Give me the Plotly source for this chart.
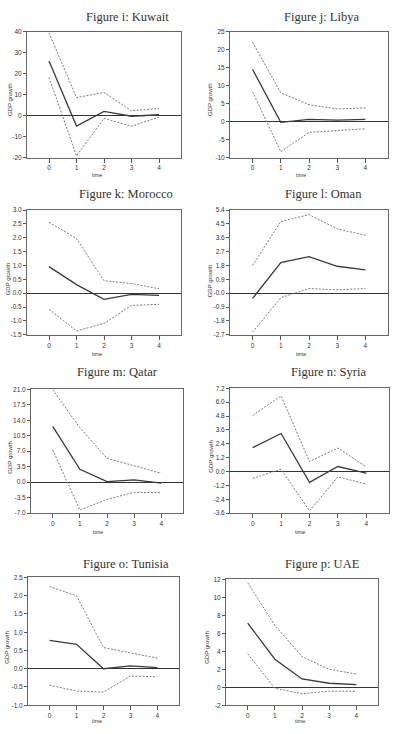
import plotly.graph_objects as go

time = [0, 1, 2, 3, 4]

kuwait_irf = [26.0, -5.0, 2.0, -0.3, 0.4]
kuwait_up = [39.5, 8.6, 11.0, 2.3, 3.4]
kuwait_lo = [18.2, -19.2, -1.3, -5.1, -0.7]

libya_irf = [14.5, -0.2, 0.6, 0.4, 0.6]
libya_up = [22.1, 8.0, 4.7, 3.5, 3.8]
libya_lo = [8.3, -8.4, -3.0, -2.5, -2.0]

morocco_irf = [0.96, 0.31, -0.22, -0.04, -0.08]
morocco_up = [2.56, 1.97, 0.45, 0.35, 0.16]
morocco_lo = [-0.58, -1.36, -1.09, -0.44, -0.40]

oman_irf = [-0.34, 1.99, 2.37, 1.75, 1.52]
oman_up = [1.8, 4.65, 5.1, 4.18, 3.76]
oman_lo = [-2.53, -0.29, 0.3, 0.22, 0.3]

qatar_irf = [12.6, 2.9, 0.1, 0.5, -0.2]
qatar_up = [20.9, 12.3, 5.4, 3.7, 2.0]
qatar_lo = [7.3, -6.3, -3.9, -2.3, -2.4]

syria_irf = [2.06, 3.29, -0.94, 0.43, -0.14]
syria_up = [4.86, 6.54, 0.86, 2.03, 0.4]
syria_lo = [-0.6, 0.2, -3.4, -0.46, -1.09]

tunisia_irf = [0.78, 0.67, 0.0, 0.08, 0.03]
tunisia_up = [2.25, 2.0, 0.58, 0.44, 0.29]
tunisia_lo = [-0.45, -0.61, -0.64, -0.2, -0.22]

uae_irf = [7.14, 3.12, 0.93, 0.45, 0.3]
uae_up = [11.63, 6.9, 3.41, 2.0, 1.47]
uae_lo = [3.74, -0.1, -0.72, -0.43, -0.46]

titles = ["Figure i: Kuwait", "Figure j: Libya", "Figure k: Morocco", "Figure l: Oman",
          "Figure m: Qatar", "Figure n: Syria", "Figure o: Tunisia", "Figure p: UAE"]

yticks = [
    [-20, -10, 0, 10, 20, 30, 40],
    [-10, -5, 0, 5, 10, 15, 20, 25],
    [-1.5, -1.0, -0.5, 0.0, 0.5, 1.0, 1.5, 2.0, 2.5, 3.0],
    [-2.7, -1.8, -0.9, 0.0, 0.9, 1.8, 2.7, 3.6, 4.5, 5.4],
    [-7.0, -3.5, 0.0, 3.5, 7.0, 10.5, 14.0, 17.5, 21.0],
    [-3.6, -2.4, -1.2, 0.0, 1.2, 2.4, 3.6, 4.8, 6.0, 7.2],
    [-1.0, -0.5, 0.0, 0.5, 1.0, 1.5, 2.0, 2.5],
    [-2, 0, 2, 4, 6, 8, 10, 12],
]
yticktext = [
    ["-20", "-10", "0", "10", "20", "30", "40"],
    ["-10", "-5", "0", "5", "10", "15", "20", "25"],
    ["-1.5", "-1.0", "-0.5", "0.0", "0.5", "1.0", "1.5", "2.0", "2.5", "3.0"],
    ["-2.7", "-1.8", "-0.9", "-0.0", "0.9", "1.8", "2.7", "3.6", "4.5", "5.4"],
    ["-7.0", "-3.5", "0.0", "3.5", "7.0", "10.5", "14.0", "17.5", "21.0"],
    ["-3.6", "-2.4", "-1.2", "0.0", "1.2", "2.4", "3.6", "4.8", "6.0", "7.2"],
    ["-1.0", "-0.5", "0.0", "0.5", "1.0", "1.5", "2.0", "2.5"],
    ["-2", "0", "2", "4", "6", "8", "10", "12"],
]

series = [
    (kuwait_irf, kuwait_up, kuwait_lo),
    (libya_irf, libya_up, libya_lo),
    (morocco_irf, morocco_up, morocco_lo),
    (oman_irf, oman_up, oman_lo),
    (qatar_irf, qatar_up, qatar_lo),
    (syria_irf, syria_up, syria_lo),
    (tunisia_irf, tunisia_up, tunisia_lo),
    (uae_irf, uae_up, uae_lo),
]

W, H = 396, 734
# plot boxes in pixels: left, right, top, bottom
boxes = [
    (27, 181, 28, 155), (230, 388, 28, 155),
    (27, 181, 208, 334), (230, 388, 208, 334),
    (31, 183, 389, 514), (230, 389, 388, 514),
    (28, 179, 579, 708), (226, 378, 581, 708),
]
title_pos = [(127, 13), (321, 13), (126, 192), (323, 192),
             (117, 372), (328, 372), (126, 565), (322, 565)]
time_pos = [(97, 173), (301, 173), (97, 353), (301, 353),
            (98, 533), (300, 533), (97, 724), (300, 724)]
ylab_pos = [(10, 97), (210, 97), (8, 278), (210, 280),
            (10, 458), (211, 457), (7, 650), (207, 650)]

fig = go.Figure()
layout = dict(width=W, height=H, margin=dict(l=0, r=0, t=0, b=0),
              paper_bgcolor="white", plot_bgcolor="white", showlegend=False)
annotations = []
tick_font = dict(family="Liberation Sans, Arial", size=6.5, color="#333")

for i, (irf, up, lo) in enumerate(series):
    n = i + 1
    xa = "x" if n == 1 else f"x{n}"
    ya = "y" if n == 1 else f"y{n}"
    for vals, dash, col, w in [(up, "2px,1.5px", "#7a7a7a", 1), (lo, "2px,1.5px", "#7a7a7a", 1),
                               (irf, "solid", "#3a3a3a", 1.3)]:
        fig.add_trace(go.Scatter(x=time, y=vals, mode="lines", xaxis=xa, yaxis=ya,
                                 line=dict(color=col, width=w, dash=dash), hoverinfo="skip"))
    l, r, t, b = boxes[i]
    xk = "xaxis" if n == 1 else f"xaxis{n}"
    yk = "yaxis" if n == 1 else f"yaxis{n}"
    yt = yticks[i]
    layout[xk] = dict(domain=[l / W, r / W], anchor=ya, range=[-0.8, 4.8],
                      tickvals=time, ticktext=[str(v) for v in time],
                      ticks="outside", ticklen=4, tickcolor="#555", tickfont=tick_font,
                      showgrid=False, zeroline=False, showline=True, linecolor="#666",
                      linewidth=1, mirror=True, fixedrange=True)
    layout[yk] = dict(domain=[1 - b / H, 1 - t / H], anchor=xa, range=[yt[0], yt[-1]],
                      tickvals=yt, ticktext=yticktext[i],
                      ticks="outside", ticklen=3, tickcolor="#555", tickfont=tick_font,
                      showgrid=False, zeroline=True, zerolinecolor="#333", zerolinewidth=1.2,
                      showline=True, linecolor="#666", linewidth=1, mirror=True, fixedrange=True)
    tx, ty = title_pos[i]
    annotations.append(dict(text=titles[i], x=tx / W, y=1 - ty / H, xref="paper", yref="paper",
                            showarrow=False, xanchor="center", yanchor="middle",
                            font=dict(family="Liberation Serif, Times New Roman", size=12.5, color="#333")))
    mx, my = time_pos[i]
    annotations.append(dict(text="time", x=mx / W, y=1 - my / H, xref="paper", yref="paper",
                            showarrow=False, xanchor="center", yanchor="middle",
                            font=dict(family="Liberation Sans, Arial", size=5.5, color="#333")))
    gx, gy = ylab_pos[i]
    annotations.append(dict(text="GDP growth", x=gx / W, y=1 - gy / H, xref="paper", yref="paper",
                            showarrow=False, xanchor="center", yanchor="middle", textangle=-90,
                            font=dict(family="Liberation Sans, Arial", size=6, color="#333")))

layout["annotations"] = annotations
fig.update_layout(**layout)
fig.write_html("out.html")
